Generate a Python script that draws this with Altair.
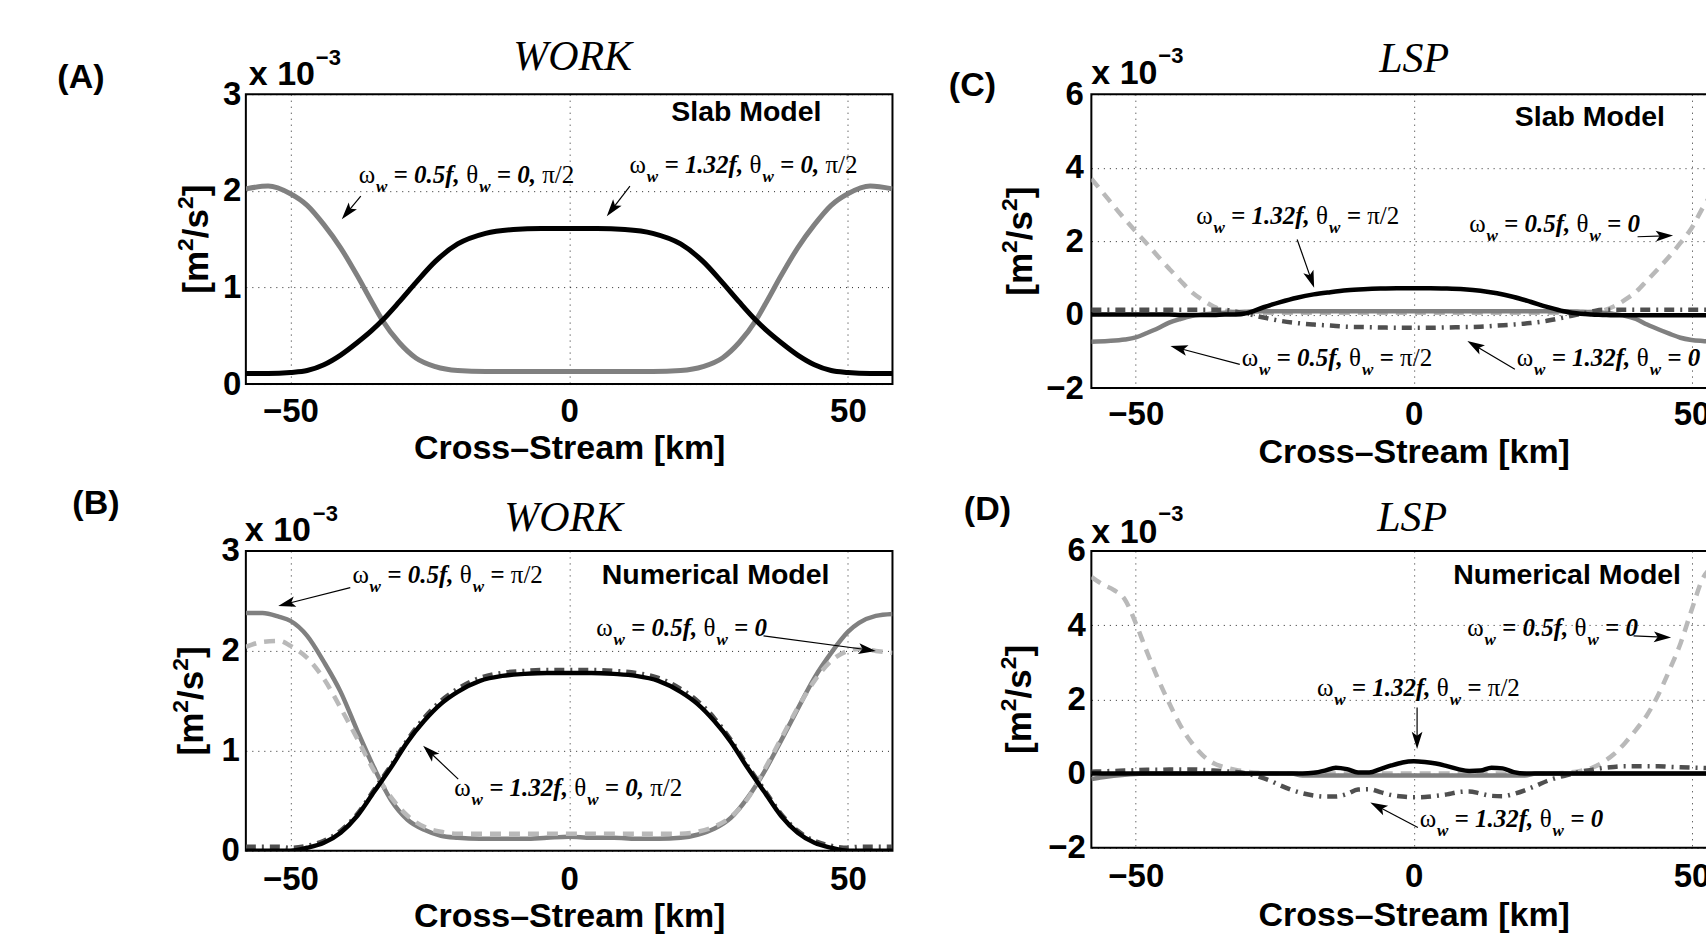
import math
import altair as alt
import pandas as pd

SANS = "Liberation Sans"
SERIF = "Liberation Serif"

# ------------------------------------------------------------------ data
X_DOM = [-58, 58]
X_TICKS = [-50, 0, 50]

# (A) WORK, slab model
A_x = [-58, -54, -50, -47, -44, -41, -38, -35.5, -33.5, -30.5, -27.5, -24, -20, -15, -10, -5, 0,
       5, 10, 15, 20, 24, 27.5, 30.5, 33.5, 35.5, 38, 41, 44, 47, 50, 54, 58]
A_gray = [2.02, 2.05, 1.97, 1.85, 1.65, 1.41, 1.12, 0.86, 0.66, 0.43, 0.27, 0.18, 0.14, 0.13, 0.13, 0.13, 0.13,
          0.13, 0.13, 0.13, 0.14, 0.18, 0.27, 0.43, 0.66, 0.86, 1.12, 1.41, 1.65, 1.85, 1.97, 2.05, 2.02]
A_black = [0.11, 0.11, 0.12, 0.14, 0.20, 0.30, 0.43, 0.55, 0.66, 0.85, 1.05, 1.27, 1.45, 1.56, 1.60, 1.61, 1.61,
           1.61, 1.60, 1.56, 1.45, 1.27, 1.05, 0.85, 0.66, 0.55, 0.43, 0.30, 0.20, 0.14, 0.12, 0.11, 0.11]

# (B) WORK, numerical model
B_x = [-58, -55, -52, -50, -47, -44, -41, -38, -35, -32, -29, -26, -23, -20, -16, -12, -8, -4, 0,
       4, 8, 12, 16, 20, 23, 26, 29, 32, 35, 38, 41, 44, 47, 50, 52, 55, 58]
B_gray = [2.38, 2.38, 2.34, 2.30, 2.15, 1.89, 1.59, 1.20, 0.83, 0.51, 0.31, 0.21, 0.15, 0.13, 0.12, 0.12, 0.12, 0.13, 0.14,
          0.13, 0.13, 0.12, 0.12, 0.13, 0.16, 0.22, 0.33, 0.53, 0.79, 1.10, 1.42, 1.73, 1.98, 2.19, 2.28, 2.35, 2.37]
B_light = [2.04, 2.09, 2.10, 2.05, 1.93, 1.72, 1.43, 1.12, 0.80, 0.54, 0.35, 0.24, 0.19, 0.17, 0.17, 0.17, 0.17, 0.17, 0.17,
           0.17, 0.17, 0.17, 0.17, 0.17, 0.19, 0.24, 0.34, 0.52, 0.81, 1.12, 1.43, 1.70, 1.90, 2.00, 2.02, 2.00, 1.98]
B_dark = [0.04, 0.04, 0.04, 0.03, 0.05, 0.10, 0.20, 0.37, 0.61, 0.85, 1.11, 1.33, 1.50, 1.62, 1.73, 1.78, 1.80, 1.81, 1.81,
          1.81, 1.80, 1.78, 1.73, 1.62, 1.50, 1.33, 1.11, 0.85, 0.61, 0.37, 0.20, 0.10, 0.05, 0.03, 0.04, 0.04, 0.04]
B_black = [0.0, 0.0, 0.0, 0.0, 0.03, 0.08, 0.18, 0.35, 0.59, 0.83, 1.09, 1.30, 1.47, 1.59, 1.70, 1.75, 1.77, 1.78, 1.78,
           1.78, 1.77, 1.75, 1.70, 1.59, 1.47, 1.30, 1.09, 0.83, 0.59, 0.35, 0.18, 0.08, 0.03, 0.0, 0.0, 0.0, 0.0]

# (C) LSP, slab model
C_x = [-58, -55, -52, -50, -48, -46, -44, -42, -40, -38, -36, -34, -32, -30,
       -27, -24, -21, -18, -15, -12, -9, -6, -3, 0, 3, 6, 9, 12, 15, 18, 21, 24, 27,
       30, 32, 34, 36, 38, 40, 42, 44, 46, 48, 50, 52, 55, 58]
C_light = [3.70, 3.15, 2.60, 2.26, 1.93, 1.58, 1.25, 0.93, 0.62, 0.40, 0.22, 0.11, 0.07, 0.05,
           0.05, 0.05, 0.05, 0.05, 0.05, 0.05, 0.05, 0.05, 0.05, 0.05, 0.05, 0.05, 0.05, 0.05, 0.05, 0.05, 0.05, 0.05, 0.05,
           0.05, 0.07, 0.11, 0.22, 0.40, 0.62, 0.93, 1.25, 1.58, 1.95, 2.35, 2.90, 3.60, 4.20]
C_gray = [-0.74, -0.72, -0.68, -0.62, -0.50, -0.37, -0.22, -0.12, -0.04, 0.00, 0.03, 0.05, 0.07, 0.08,
          0.09, 0.09, 0.09, 0.09, 0.09, 0.09, 0.09, 0.09, 0.09, 0.09, 0.09, 0.09, 0.09, 0.09, 0.09, 0.09, 0.09, 0.09, 0.09,
          0.08, 0.07, 0.05, 0.02, -0.03, -0.12, -0.27, -0.40, -0.52, -0.63, -0.69, -0.72, -0.75, -0.76]
C_dark = [0.13, 0.13, 0.13, 0.13, 0.13, 0.13, 0.13, 0.13, 0.13, 0.13, 0.13, 0.13, 0.08, 0.02,
          -0.08, -0.17, -0.23, -0.27, -0.30, -0.33, -0.34, -0.35, -0.36, -0.36, -0.36, -0.35, -0.34, -0.33, -0.30, -0.27,
          -0.23, -0.17, -0.08,
          0.02, 0.08, 0.13, 0.13, 0.13, 0.13, 0.13, 0.13, 0.13, 0.13, 0.13, 0.13, 0.13, 0.13]
C_black = [0.0, 0.0, 0.0, 0.0, 0.0, 0.0, 0.0, -0.01, -0.01, -0.01, -0.01, 0.0, 0.0, 0.04,
           0.20, 0.34, 0.46, 0.55, 0.61, 0.66, 0.69, 0.71, 0.72, 0.72, 0.72, 0.71, 0.69, 0.65, 0.58, 0.48, 0.35, 0.21, 0.09,
           0.02, 0.0, -0.01, -0.02, -0.02, -0.02, -0.02, -0.02, -0.02, -0.02, -0.02, -0.02, -0.02, -0.02]

# (D) LSP, numerical model
D_x = [-58, -56, -54, -52, -50, -48, -46, -44, -42, -40, -38, -36, -34, -32, -30, -28, -26, -24, -22, -20,
       -18, -16, -14, -12, -10, -8, -6, -4, -2, 0, 2, 4, 6, 8, 10, 12, 14, 16, 18,
       20, 22, 24, 26, 28, 30, 32, 34, 36, 38, 40, 42, 44, 46, 48, 50, 52, 54, 56, 58]
D_light = [5.30, 5.10, 4.95, 4.70, 4.05, 3.28, 2.55, 1.90, 1.30, 0.84, 0.50, 0.28, 0.17, 0.10, 0.05, 0.02, 0.01,
           0.0, 0.0, 0.0, 0.0, 0.0, 0.0, 0.0, 0.0, 0.0, 0.0, 0.0, 0.0,
           0.0,
           0.0, 0.0, 0.0, 0.0, 0.0, 0.0, 0.0, 0.0, 0.0, 0.0, 0.0, 0.0,
           0.01, 0.03, 0.07, 0.15, 0.30, 0.52, 0.82, 1.18, 1.58, 2.12, 2.78, 3.50, 4.40, 5.25, 5.60, 5.80, 5.90]
D_gray = [-0.15, -0.10, -0.06, -0.03, -0.01,
          0.0, 0.0, 0.0, 0.0, 0.0, 0.0, 0.0, 0.0, 0.0, 0.0, 0.0, 0.0, 0.0, 0.0,
          -0.05, -0.05, -0.05, -0.05, -0.05, -0.05, -0.05, -0.05, -0.05, -0.05, -0.05,
          -0.05, -0.05, -0.05, -0.05, -0.05, -0.05, -0.05, -0.05, -0.05, -0.05,
          0.0, 0.0, 0.0, 0.0, 0.0, 0.0, 0.0, 0.0, 0.0, 0.0, 0.0, 0.0, 0.0, 0.0, 0.0, 0.0, 0.0, 0.0, 0.0]
D_dark = [0.05, 0.06, 0.07, 0.08, 0.09, 0.10, 0.10, 0.11, 0.11, 0.11, 0.10, 0.08, 0.06, 0.04, 0.00, -0.08, -0.18,
          -0.32, -0.44, -0.53, -0.59, -0.62, -0.62, -0.55, -0.43, -0.42, -0.50, -0.58, -0.62,
          -0.64,
          -0.63, -0.60, -0.56, -0.50, -0.48, -0.54, -0.60, -0.61, -0.55, -0.45, -0.33, -0.20, -0.10, -0.03,
          0.05, 0.10, 0.15, 0.18, 0.20, 0.20, 0.20, 0.20, 0.18, 0.17, 0.16, 0.15, 0.14, 0.13, 0.12]
D_black = [0.0, 0.0, 0.0, 0.0, 0.0, 0.0, 0.0, 0.0, 0.0, 0.0, 0.0, 0.0, 0.0, 0.0, 0.0, 0.0, 0.0, 0.0, 0.0, 0.0,
           0.02, 0.08, 0.16, 0.12, 0.03, 0.03, 0.12, 0.22, 0.30,
           0.33,
           0.31, 0.27, 0.20, 0.12, 0.07, 0.08, 0.16, 0.14, 0.04,
           0.0, 0.0, 0.0, 0.0, 0.0, 0.0, 0.0, 0.0, 0.0, 0.0, 0.0, 0.0, 0.0, 0.0, 0.0, 0.0, 0.0, 0.0, 0.0, 0.0]

# annotations: text start (x, baseline y) and arrow tail -> tip, in data units
ANN_A = [
    dict(freq="0.5f", ang="0, π/2", x=-37.74, y=2.08, tail=(-37.38, 1.945), tip=(-40.79, 1.707)),
    dict(freq="1.32f", ang="0, π/2", x=10.84, y=2.18, tail=(10.90, 2.048), tip=(6.75, 1.738)),
]
ANN_B = [
    dict(freq="0.5f", ang="π/2", x=-38.89, y=2.68, tail=(-39.27, 2.633), tip=(-52.19, 2.45)),
    dict(freq="0.5f", ang="0", x=4.84, y=2.15, tail=(34.87, 2.15), tip=(55.02, 2.0)),
    dict(freq="1.32f", ang="0, π/2", x=-20.6, y=0.55, tail=(-19.9, 0.717), tip=(-26.2, 1.05)),
]
ANN_C = [
    dict(freq="1.32f", ang="π/2", x=-39.13, y=2.47, tail=(-20.97, 2.046), tip=(-17.91, 0.729)),
    dict(freq="0.5f", ang="0", x=9.99, y=2.25, tail=(40.29, 2.12), tip=(46.68, 2.15)),
    dict(freq="0.5f", ang="π/2", x=-30.95, y=-1.40, tail=(-31.29, -1.355), tip=(-43.77, -0.857)),
    dict(freq="1.32f", ang="0", x=18.56, y=-1.40, tail=(18.21, -1.491), tip=(9.66, -0.721)),
]
ANN_D = [
    dict(freq="0.5f", ang="0", x=9.63, y=3.71, tail=(39.57, 3.71), tip=(46.33, 3.665)),
    dict(freq="1.32f", ang="π/2", x=-17.41, y=2.09, tail=(0.615, 1.78), tip=(0.615, 0.66)),
    dict(freq="1.32f", ang="0", x=1.10, y=-1.43, tail=(0.76, -1.453), tip=(-7.80, -0.78)),
]

# ------------------------------------------------------------------ styles
STYLE = {
    "gray": dict(color="#808080", dash=None),
    "light": dict(color="#b9b9b9", dash=[11, 8]),
    "dark": dict(color="#4f4f4f", dash=[10, 6, 2, 6]),
    "black": dict(color="#000000", dash=None),
}
ANN_SIZE = 25
SUB_SIZE = 17
SUB_DROP = 9
EM_BI = {" ": 0.25, "=": 0.57, ".": 0.25, ",": 0.25, "/": 0.278, "f": 0.333, "w": 0.667}
EM_GR = {"ω": 0.69, "θ": 0.52, "π": 0.55, "/": 0.278, "2": 0.5}
SANS_EM = {"[": 0.333, "]": 0.333, "m": 0.889, "/": 0.278, "s": 0.556, "2": 0.556}
HEAD_PATH = "M0,-1L0.62,1L0,0.55L-0.62,1Z"
HEAD_SIZE = 300
YT_MAIN, YT_SUP, YT_RAISE = 35, 23, 11

PANELS = {
    "A": dict(w=647, h=290, ydom=[0, 3], yticks=[0, 1, 2, 3], xlp=37, xty=74, ylp=5, ytx=-49, lw=5,
              series=[("gray", A_x, A_gray), ("black", A_x, A_black)], ann=ANN_A,
              label="(A)", label_pos=(-165, -16), title="WORK", title_pos=(327, -24),
              model="Slab Model", model_pos=(576, 27), x10_pos=(3, -9), exp_pos=(70, -29), anchor=True),
    "C": dict(w=645, h=294, ydom=[-2, 6], yticks=[-2, 0, 2, 4, 6], xlp=36, xty=74, ylp=8, ytx=-70, lw=4.5,
              series=[("light", C_x, C_light), ("gray", C_x, C_gray), ("dark", C_x, C_dark), ("black", C_x, C_black)],
              ann=ANN_C, label="(C)", label_pos=(-119, -8), title="LSP", title_pos=(323, -22),
              model="Slab Model", model_pos=(574, 32), x10_pos=(0, -10), exp_pos=(67, -31), anchor=False),
    "B": dict(w=647, h=300, ydom=[0, 3], yticks=[0, 1, 2, 3], xlp=38.5, xty=75.5, ylp=6.5, ytx=-54, lw=4.5,
              series=[("gray", B_x, B_gray), ("light", B_x, B_light), ("dark", B_x, B_dark), ("black", B_x, B_black)],
              ann=ANN_B, label="(B)", label_pos=(-150, -47), title="WORK", title_pos=(318, -20),
              model="Numerical Model", model_pos=(584, 33), x10_pos=(-1, -10), exp_pos=(67, -30), anchor=False),
    "D": dict(w=645, h=297, ydom=[-2, 6], yticks=[-2, 0, 2, 4, 6], xlp=38.5, xty=78, ylp=6, ytx=-71, lw=4.5,
              series=[("light", D_x, D_light), ("gray", D_x, D_gray), ("dark", D_x, D_dark), ("black", D_x, D_black)],
              ann=ANN_D, label="(D)", label_pos=(-104, -41), title="LSP", title_pos=(321, -20),
              model="Numerical Model", model_pos=(590, 33), x10_pos=(0, -8), exp_pos=(67, -30), anchor=False),
}

ONE = pd.DataFrame({"k": [0]})


def text_w(s, size, table):
    return sum(table.get(ch, 0.5) for ch in s) * size


def ann_tokens(a):
    toks = [("ω", "g"), ("w", "s"), (None, "sp"), ("= " + a["freq"] + ",", "m"), (None, "sp"),
            ("θ", "g"), ("w", "s"), (None, "sp"), ("=", "m"), (None, "sp")]
    ang = a["ang"]
    if "π/2" in ang:
        pre = ang.replace("π/2", "").strip()
        if pre:
            toks += [(pre, "m"), (None, "sp")]
        toks.append(("π/2", "g"))
    else:
        toks.append((ang, "m"))
    return toks


def ann_text_rows(anns, kx, ky):
    rows = {"m": [], "s": [], "g": []}
    for a in anns:
        x0, y0 = a["x"], a["y"]
        off = 0.0
        for txt, kind in ann_tokens(a):
            if kind == "sp":
                off += 0.25 * ANN_SIZE
                continue
            if kind == "s":
                rows["s"].append({"x": x0 + off / kx, "y": y0 - SUB_DROP / ky, "t": txt})
                off += text_w(txt, SUB_SIZE, EM_BI)
            elif kind == "g":
                rows["g"].append({"x": x0 + off / kx, "y": y0, "t": txt})
                off += text_w(txt, ANN_SIZE, EM_GR)
            else:
                rows["m"].append({"x": x0 + off / kx, "y": y0, "t": txt})
                off += text_w(txt, ANN_SIZE, EM_BI)
    return {k: pd.DataFrame(v) for k, v in rows.items()}


def arrow_rows(anns, kx, ky):
    r = math.sqrt(HEAD_SIZE) / 2
    shafts, heads = [], []
    for a in anns:
        (tx, ty), (hx, hy) = a["tail"], a["tip"]
        dxp = (hx - tx) * kx
        dyp = -(hy - ty) * ky
        L = math.hypot(dxp, dyp)
        ux, uy = dxp / L, dyp / L
        cx = hx - ux * r / kx
        cy = hy + uy * r / ky
        ang = math.degrees(math.atan2(dxp, -dyp)) % 360
        shafts.append({"x1": tx, "y1": ty, "x2": cx, "y2": cy})
        heads.append({"hx": cx, "hy": cy, "ang": ang})
    return pd.DataFrame(shafts), pd.DataFrame(heads)


def label_text(text, pos, **kw):
    return alt.Chart(ONE).mark_text(text=text, color="black", **kw).encode(
        x=alt.value(pos[0]), y=alt.value(pos[1]))


def ytitle_layers(p):
    pieces = [("[m", False), ("2", True), ("/s", False), ("2", True), ("]", False)]
    widths = [text_w(t, YT_SUP if s else YT_MAIN, SANS_EM) for t, s in pieces]
    start = p["h"] / 2 + sum(widths) / 2
    out, off = [], 0.0
    for (t, s), w in zip(pieces, widths):
        out.append(label_text(t, (p["ytx"] - (YT_RAISE if s else 0), start - off), font=SANS,
                              fontWeight="bold", fontSize=YT_SUP if s else YT_MAIN, angle=270,
                              align="left", baseline="middle"))
        off += w
    return out


def build_panel(p):
    W, H = p["w"], p["h"]
    y0, y1 = p["ydom"]
    kx = W / (X_DOM[1] - X_DOM[0])
    ky = H / (y1 - y0)
    xs = alt.Scale(domain=X_DOM, nice=False, zero=False)
    ys = alt.Scale(domain=[y0, y1], nice=False, zero=False)
    xax = alt.Axis(values=X_TICKS, title="Cross–Stream [km]", labelPadding=p["xlp"],
                   labelBaseline="alphabetic", titleBaseline="alphabetic", titleX=W / 2,
                   titleY=p["xty"], titleAlign="center", titleAngle=0)
    yax = alt.Axis(values=p["yticks"], title=None, labelPadding=p["ylp"])

    def X(f="x"):
        return alt.X(f, type="quantitative", scale=xs, axis=xax)

    def Y(f="y"):
        return alt.Y(f, type="quantitative", scale=ys, axis=yax)

    layers = []
    for name, xv, yv in p["series"]:
        st = STYLE[name]
        mk = dict(color=st["color"], strokeWidth=p["lw"], interpolate="monotone", clip=True, strokeCap="butt")
        if st["dash"]:
            mk["strokeDash"] = st["dash"]
        layers.append(alt.Chart(pd.DataFrame({"x": xv, "y": yv})).mark_line(**mk).encode(x=X(), y=Y()))

    tr = ann_text_rows(p["ann"], kx, ky)
    base = dict(align="left", baseline="alphabetic", color="black")
    layers.append(alt.Chart(tr["m"]).mark_text(font=SERIF, fontStyle="italic", fontWeight="bold",
                                               fontSize=ANN_SIZE, **base).encode(x=X(), y=Y(), text="t:N"))
    layers.append(alt.Chart(tr["s"]).mark_text(font=SERIF, fontStyle="italic", fontWeight="bold",
                                               fontSize=SUB_SIZE, **base).encode(x=X(), y=Y(), text="t:N"))
    layers.append(alt.Chart(tr["g"]).mark_text(font=SERIF, fontSize=ANN_SIZE, **base).encode(
        x=X(), y=Y(), text="t:N"))

    sh_df, hd_df = arrow_rows(p["ann"], kx, ky)
    layers.append(alt.Chart(sh_df).mark_rule(color="black", strokeWidth=1.2).encode(
        x=X("x1"), y=Y("y1"), x2="x2", y2="y2"))
    layers.append(alt.Chart(hd_df).mark_point(shape=HEAD_PATH, filled=True, size=HEAD_SIZE, color="black",
                                              opacity=1, strokeWidth=0).encode(
        x=X("hx"), y=Y("hy"), angle=alt.Angle("ang:Q", scale=None)))

    layers.append(label_text(p["label"], p["label_pos"], font=SANS, fontWeight="bold", fontSize=34,
                             align="center", baseline="middle"))
    layers.append(label_text(p["title"], p["title_pos"], font=SERIF, fontStyle="italic", fontSize=42,
                             align="center", baseline="alphabetic"))
    layers.append(label_text(p["model"], p["model_pos"], font=SANS, fontWeight="bold", fontSize=28.5,
                             align="right", baseline="alphabetic"))
    layers.append(label_text("x 10", p["x10_pos"], font=SANS, fontWeight="bold", fontSize=34,
                             align="left", baseline="alphabetic"))
    layers.append(label_text("−3", p["exp_pos"], font=SANS, fontWeight="bold", fontSize=22,
                             align="left", baseline="alphabetic"))
    layers.extend(ytitle_layers(p))
    if p["anchor"]:
        layers.append(alt.Chart(ONE).mark_rule(strokeOpacity=0, strokeWidth=1).encode(
            x=alt.value(-244.5), x2=alt.value(-244.5), y=alt.value(-92.5), y2=alt.value(-92)))

    return alt.layer(*layers).properties(width=W, height=H)


charts = [build_panel(PANELS[k]) for k in ["A", "C", "B", "D"]]

chart = alt.concat(
    *charts, columns=2, spacing={"row": 163, "column": 199}, bounds="flush"
).properties(
    padding={"left": 0, "top": 0, "right": -31, "bottom": 0}
).configure_view(
    stroke="black", strokeWidth=2
).configure_axis(
    domain=False, ticks=False, tickSize=0, labelFlush=False, labelOverlap=False,
    grid=True, gridColor="black", gridDash=[1, 5], gridWidth=1, gridOpacity=0.85,
    labelFont=SANS, labelFontSize=33, labelFontWeight="bold", labelColor="black",
    titleFont=SANS, titleFontSize=34, titleFontWeight="bold", titleColor="black",
)

chart.save("out.html", embed_options={"renderer": "svg", "actions": False})
